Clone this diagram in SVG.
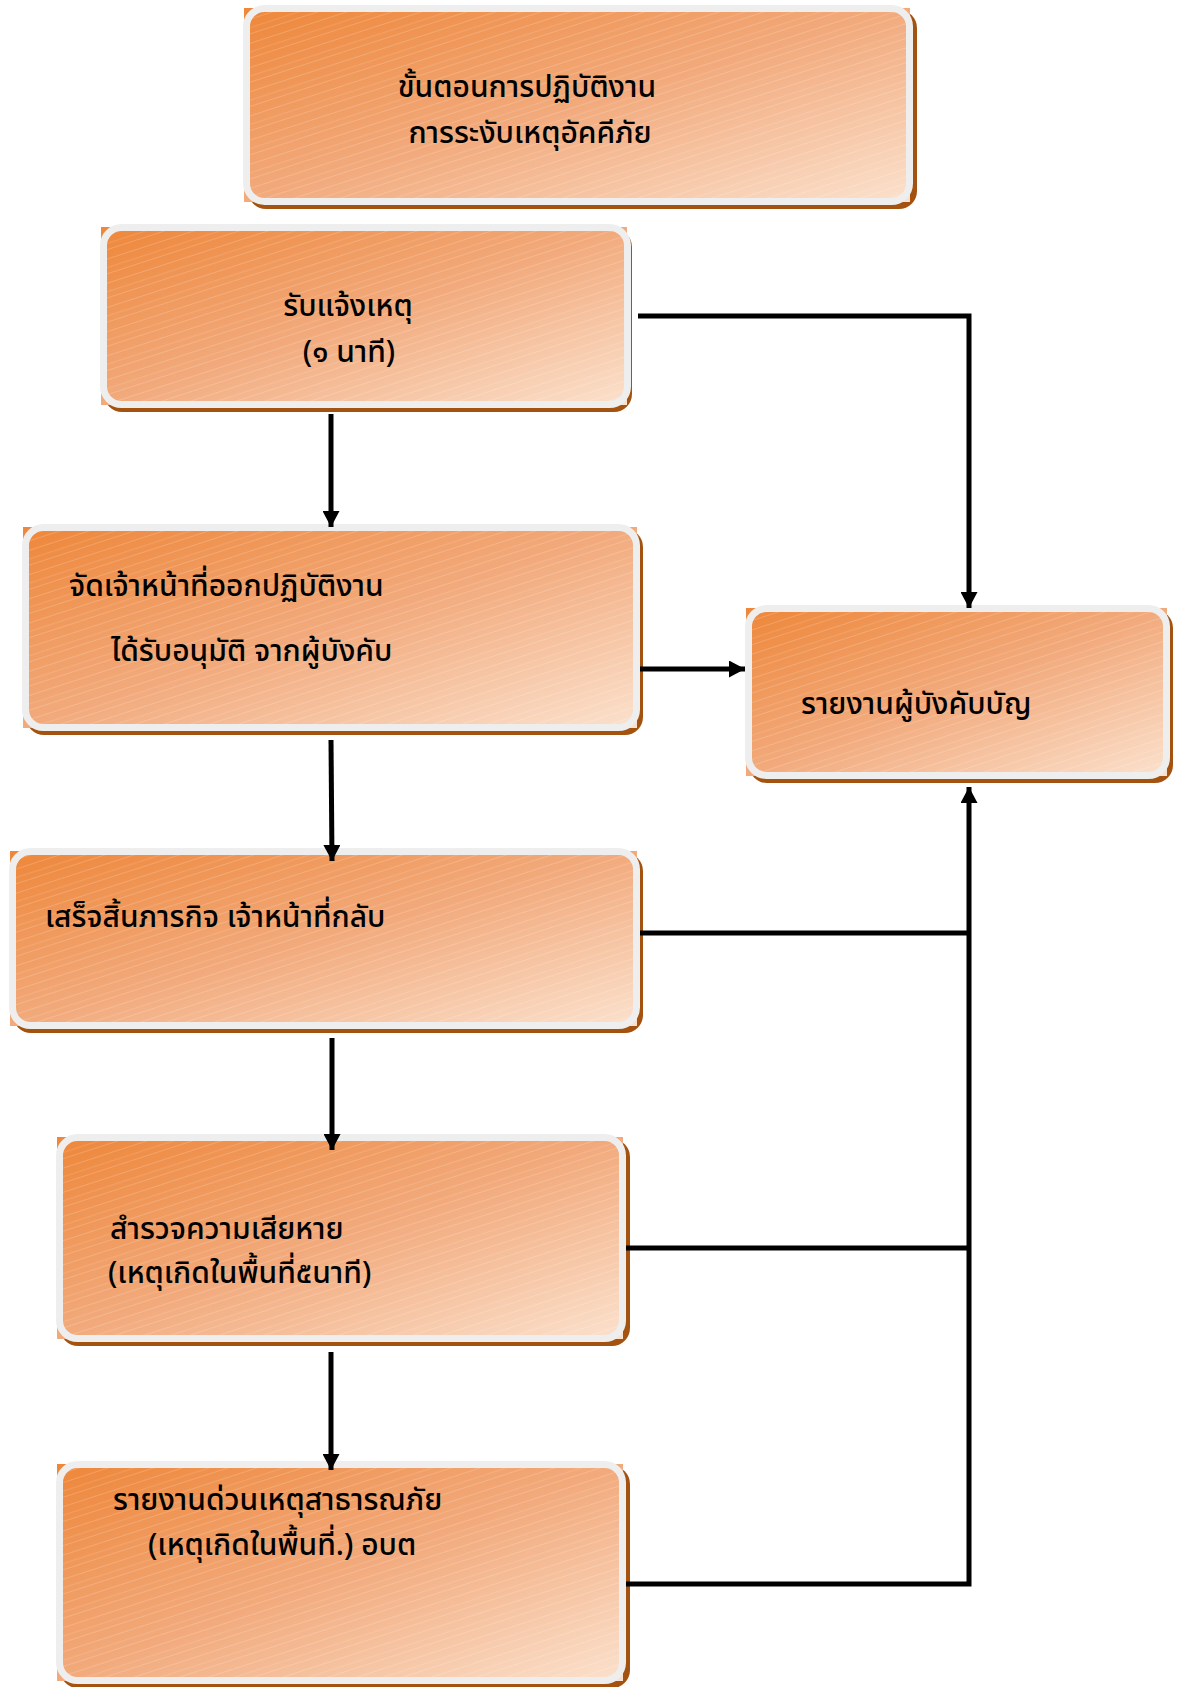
<svg xmlns="http://www.w3.org/2000/svg" width="1180" height="1687" viewBox="0 0 1180 1687">
<style>
.sh{fill:#a3520f}
.bg{fill:url(#g)}
.bx{fill:url(#g);stroke:#eeeeee;stroke-width:7}
.st{fill:url(#streak)}
.t{font-family:"Noto Sans Thai","Noto Sans","DejaVu Sans",sans-serif;font-size:30px;font-weight:500;fill:#000}
.c{stroke:#000;stroke-width:5;fill:none}
</style>
<defs>
<linearGradient id="g" x1="0" y1="0" x2="1" y2="1">
<stop offset="0" stop-color="#ee873a"/>
<stop offset="0.5" stop-color="#f2aa7c"/>
<stop offset="1" stop-color="#fbe1cd"/>
</linearGradient>
<pattern id="streak" width="60" height="23" patternUnits="userSpaceOnUse" patternTransform="rotate(-18)">
<rect x="0" y="3" width="60" height="1" fill="#fff" opacity="0.18"/>
<rect x="0" y="11" width="60" height="1.2" fill="#fff" opacity="0.12"/>
<rect x="0" y="17" width="60" height="0.8" fill="#fff" opacity="0.22"/>
</pattern>
<marker id="ah" markerUnits="userSpaceOnUse" markerWidth="17" markerHeight="17" refX="16" refY="8.5" orient="auto">
<path d="M0,0 L16,8.5 L0,17 z" fill="#000"/>
</marker>
</defs>

<g id="title">
<rect class="sh" x="248" y="10" width="669" height="199" rx="18"/>
<rect class="bg" x="244" y="8" width="666" height="194"/>
<rect class="bx" x="246.5" y="8.5" width="663" height="193" rx="18"/>
<rect class="st" x="250" y="12" width="656" height="186" rx="14"/>
<text class="t" x="527" y="97" text-anchor="middle">ขั้นตอนการปฏิบัติงาน</text>
<text class="t" x="530" y="143" text-anchor="middle">การระงับเหตุอัคคีภัย</text>
</g>

<g id="n1">
<rect class="sh" x="104" y="229" width="528" height="183" rx="18"/>
<rect class="bg" x="101" y="227" width="526" height="178"/>
<rect class="bx" x="103.5" y="227.5" width="524" height="177" rx="18"/>
<rect class="st" x="107" y="231" width="517" height="170" rx="14"/>
<text class="t" x="348" y="316" text-anchor="middle">รับแจ้งเหตุ</text>
<text class="t" x="349" y="362" text-anchor="middle">(๑ นาที)</text>
</g>

<g id="n2">
<rect class="sh" x="26" y="529" width="617" height="206" rx="18"/>
<rect class="bg" x="23" y="527" width="614" height="201"/>
<rect class="bx" x="25.5" y="527.5" width="611" height="200" rx="18"/>
<rect class="st" x="29" y="531" width="604" height="193" rx="14"/>
<text class="t" x="69" y="596">จัดเจ้าหน้าที่ออกปฏิบัติงาน</text>
<text class="t" x="111" y="661">ได้รับอนุมัติ จากผู้บังคับ</text>
</g>

<g id="n3">
<rect class="sh" x="749" y="610" width="424" height="173" rx="18"/>
<rect class="bg" x="746" y="608" width="421" height="168"/>
<rect class="bx" x="748.5" y="608.5" width="418" height="167" rx="18"/>
<rect class="st" x="752" y="612" width="411" height="160" rx="14"/>
<text class="t" x="801" y="714">รายงานผู้บังคับบัญ</text>
</g>

<g id="n4">
<rect class="sh" x="13" y="853" width="630" height="180" rx="18"/>
<rect class="bg" x="10" y="851" width="627" height="175"/>
<rect class="bx" x="12.5" y="851.5" width="624" height="174" rx="18"/>
<rect class="st" x="16" y="855" width="617" height="167" rx="14"/>
<text class="t" x="45" y="927">เสร็จสิ้นภารกิจ เจ้าหน้าที่กลับ</text>
</g>

<g id="n5">
<rect class="sh" x="60" y="1139" width="570" height="207" rx="18"/>
<rect class="bg" x="57" y="1137" width="566" height="202"/>
<rect class="bx" x="59.5" y="1137.5" width="563" height="201" rx="18"/>
<rect class="st" x="63" y="1141" width="556" height="194" rx="14"/>
<text class="t" x="110" y="1239">สำรวจความเสียหาย</text>
<text class="t" x="108" y="1283">(เหตุเกิดในพื้นที่๕นาที)</text>
</g>

<g id="n6">
<rect class="sh" x="60" y="1466" width="570" height="222" rx="18"/>
<rect class="bg" x="57" y="1464" width="566" height="217"/>
<rect class="bx" x="59.5" y="1464.5" width="563" height="216" rx="18"/>
<rect class="st" x="63" y="1468" width="556" height="209" rx="14"/>
<text class="t" x="113" y="1510">รายงานด่วนเหตุสาธารณภัย</text>
<text class="t" x="148" y="1555">(เหตุเกิดในพื้นที่.) อบต</text>
</g>

<g id="connectors">
<polyline class="c" points="638,316 969,316 969,608" marker-end="url(#ah)"/>
<line class="c" x1="331" y1="414" x2="331" y2="527" marker-end="url(#ah)"/>
<line class="c" x1="640" y1="669" x2="745" y2="669" marker-end="url(#ah)"/>
<line class="c" x1="331" y1="740" x2="332" y2="861" marker-end="url(#ah)"/>
<line class="c" x1="332" y1="1038" x2="332" y2="1150" marker-end="url(#ah)"/>
<line class="c" x1="331" y1="1352" x2="331" y2="1470" marker-end="url(#ah)"/>
<line class="c" x1="640" y1="933" x2="969" y2="933"/>
<line class="c" x1="626" y1="1248" x2="969" y2="1248"/>
<polyline class="c" points="626,1584 969,1584 969,787" marker-end="url(#ah)"/>
</g>
</svg>
